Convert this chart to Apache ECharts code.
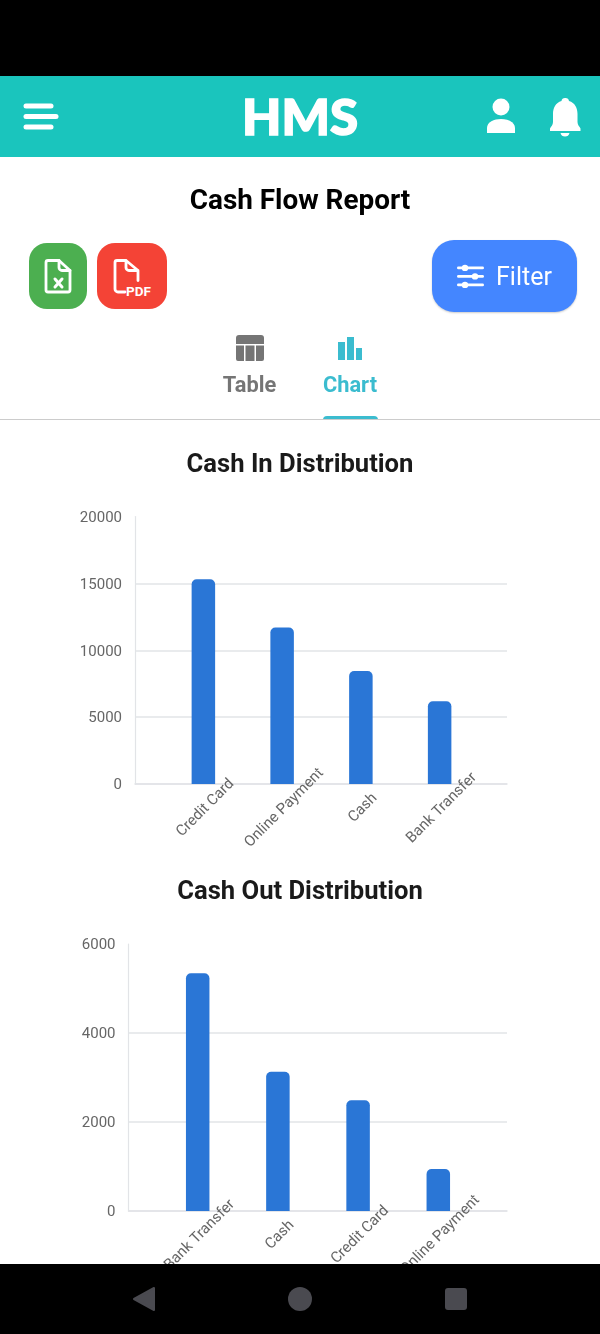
<!DOCTYPE html>
<html><head><meta charset="utf-8">
<script src="https://cdn.jsdelivr.net/npm/echarts@6/dist/echarts.min.js"></script>
<style>
html,body{margin:0;padding:0;background:#fff;width:600px;height:1334px;overflow:hidden;font-family:Roboto,sans-serif}
#chart{position:absolute;left:0;top:0;width:600px;height:1334px}
.a{position:absolute;z-index:5}
.t{position:absolute;z-index:5;white-space:nowrap;transform:translate(-50%,-50%)}
svg{display:block}
</style></head><body>
<div id="chart"></div>
<div class="a" style="left:0;top:0;width:600px;height:76px;background:#000"></div>
<div class="a" style="left:0;top:76px;width:600px;height:81px;background:#1AC5BD"></div>
<div class="a" style="left:0;top:1264px;width:600px;height:70px;background:#000"></div>
<svg class="a" style="left:0;top:76px" width="600" height="81" fill="#fff">
  <rect x="23.500" y="27.500" width="30" height="5" rx="2.500"/><rect x="23.500" y="38" width="35" height="5" rx="2.500"/><rect x="23.500" y="48.500" width="30" height="5" rx="2.500"/>
  <circle cx="501" cy="31" r="8.500"/><path d="M487 57v-5c0-6 7-9 14-9s14 3 14 9v5z"/>
  <path d="M565 22c-2 0-3.300 1.300-3.500 3-6 1.800-8.500 7-8.500 13v8c0 3-2 4.500-3 6.500v2.500h30.500v-2.500c-1-2-3-3.500-3-6.500v-8c0-6-2.500-11.200-8.500-13-.2-1.700-1.500-3-3.500-3z"/>
  <path d="M560.500 57h9c-.5 2.500-2.200 3.500-4.500 3.500s-4-1-4.500-3.500z"/>
</svg>
<div class="t" style="left:300px;top:116px;font:900 49px Lato,sans-serif;color:#fff;-webkit-text-stroke:1.500px #fff;letter-spacing:0px;transform:translate(-50%,-50%) scaleX(1.04)">HMS</div>
<div class="t" style="left:300px;top:199px;font:700 27.900px Roboto;color:#000">Cash Flow Report</div>
<div class="a" style="left:29px;top:243px;width:58px;height:66px;border-radius:18px;background:#4CAF50"></div>
<div class="a" style="left:97px;top:243px;width:70px;height:66px;border-radius:18px;background:#F44336"></div>
<div class="a" style="left:432px;top:240px;width:145px;height:72px;border-radius:22px;background:#4486FF;box-shadow:0 1px 2px rgba(0,0,0,.2)"></div>
<svg class="a" style="left:29px;top:243px" width="138" height="66" fill="none" stroke="#fff" stroke-width="2.800" stroke-linejoin="round" stroke-linecap="round">
  <path d="M19 17.500h11l11 10v19.500a2 2 0 0 1-2 2h-20a2 2 0 0 1-2-2v-27.500a2 2 0 0 1 2-2z"/><path d="M30 17.500v7a3 3 0 0 0 3 3h8"/>
  <path d="M26 36l7 8M33 36l-7 8" stroke-width="3"/>
  <path d="M96 49h-7a3 3 0 0 1-3-3v-26.500a2 2 0 0 1 2-2h9l12 10v10M97 17.500v7a3 3 0 0 0 3 3h9"/>
</svg>
<div class="t" style="left:138.500px;top:291px;font:700 13.500px Roboto;color:#fff">PDF</div>
<svg class="a" style="left:455px;top:262px" width="30" height="28" fill="#fff">
  <rect x="2" y="4.500" width="27" height="2.800" rx="1.400"/><rect x="2" y="13" width="27" height="2.800" rx="1.400"/><rect x="2" y="21.500" width="27" height="2.800" rx="1.400"/>
  <circle cx="10" cy="5.900" r="3.200"/><circle cx="20" cy="14.400" r="3.200"/><circle cx="10" cy="22.900" r="3.200"/>
</svg>
<div class="t" style="left:524px;top:276px;font:400 25px Roboto;color:#fff">Filter</div>
<svg class="a" style="left:236px;top:335px" width="28" height="27" fill="#757575">
  <path d="M3 0h22a3 3 0 0 1 3 3v6H0V3a3 3 0 0 1 3-3z"/>
  <path d="M0 10.500h8v15.500H2a2 2 0 0 1-2-2zM9.500 10.500h9v15.500h-9zM20 10.500h8v13.500a2 2 0 0 1-2 2h-6z"/>
</svg>
<svg class="a" style="left:338px;top:337px" width="25" height="24" fill="#3BBCCF">
  <rect x="0" y="5" width="7" height="18"/><rect x="9" y="0" width="7" height="23"/><rect x="18" y="11" width="6" height="12"/>
</svg>
<div class="t" style="left:249.500px;top:384px;font:700 21.800px Roboto;color:#757575">Table</div>
<div class="t" style="left:350px;top:384px;font:700 21.800px Roboto;color:#3BBCCF">Chart</div>
<div class="a" style="left:323px;top:416px;width:55px;height:3.500px;background:#3BBCCF;border-radius:4px 4px 0 0"></div>
<div class="a" style="left:0;top:419px;width:600px;height:1px;background:#ccc"></div>
<svg class="a" style="left:0;top:1264px" width="600" height="70" fill="#4a4a50">
  <path d="M154 24v22l-20-11z" stroke="#4a4a50" stroke-width="2" stroke-linejoin="round"/>
  <circle cx="300" cy="35" r="12"/><rect x="445" y="24" width="22" height="22" rx="3"/>
</svg>
<script>
const titleIn = "Cash In Distribution";
const titleOut = "Cash Out Distribution";
const categoriesIn = ["Credit Card", "Online Payment", "Cash", "Bank Transfer"];
const valuesIn = [15300, 11700, 8450, 6190];
const ticksInMax = 20000, ticksInStep = 5000;
const categoriesOut = ["Bank Transfer", "Cash", "Credit Card", "Online Payment"];
const valuesOut = [5340, 3130, 2490, 945];
const ticksOutMax = 6000, ticksOutStep = 2000;

const gridLine = "#e2e4e7", labelColor = "#666";
const chart = echarts.init(document.getElementById("chart"), null, {renderer:"canvas"});

function panel(base, cats, vals, max, step, wide, narrow, top, bottom) {
  return {
    grid: [
      {left: wide[0], width: wide[1]-wide[0], top: top, height: bottom-top},
      {left: narrow[0], width: narrow[1]-narrow[0], top: top, height: bottom-top}
    ],
    xAxis: [
      {gridIndex: base, type: "category", data: cats, axisTick:{show:false}, axisLabel:{show:false},
       axisLine:{show:true, lineStyle:{color:gridLine, width:1.5}}},
      {gridIndex: base+1, type: "category", data: cats, axisTick:{show:false}, axisLine:{show:false},
       axisLabel:{show:true, interval:0, rotate:45, align:"center", verticalAlign:"middle", margin:24, hideOverlap:false,
                  formatter:(v)=>"{c|"+v+"}",
                  rich:{c:{padding:[3,0,0,3], color:labelColor, fontFamily:"Roboto", fontSize:15}}}}
    ],
    yAxis: [
      {gridIndex: base, type:"value", min:0, max:max, interval:step,
       axisLine:{show:true, lineStyle:{color:gridLine, width:1.2}}, axisTick:{show:false},
       splitLine:{showMaxLine:false, lineStyle:{color:gridLine, width:1.5}},
       axisLabel:{margin:13, formatter:(v)=>"{v|"+v+"}",
                  rich:{v:{padding:[3,0,0,0], color:labelColor, fontFamily:"Roboto", fontSize:15}}}},
      {gridIndex: base+1, type:"value", min:0, max:max, interval:step, show:false, splitLine:{show:false}}
    ],
    series: [{
      type:"bar", xAxisIndex: base+1, yAxisIndex: base+1, data: vals, barWidth:23.5, z:3,
      itemStyle:{color:"#2A76D6", borderRadius:[5,5,0,0]}, silent:true
    }]
  };
}
const p1 = panel(0, categoriesIn, valuesIn, ticksInMax, ticksInStep, [135,507], [164,479], 516.5, 784);
const p2 = panel(2, categoriesOut, valuesOut, ticksOutMax, ticksOutStep, [128.5,507], [157.6,478.4], 944, 1211);
const titleStyle = {color:"#1a1a1a", fontFamily:"Roboto", fontWeight:700, fontSize:25.6};
chart.setOption({
  animation:false,
  title:[
    {text:titleIn, left:"center", top:453, textStyle:titleStyle, padding:0},
    {text:titleOut, left:"center", top:879.5, textStyle:titleStyle, padding:0}
  ],
  grid:[...p1.grid, ...p2.grid],
  xAxis:[...p1.xAxis, ...p2.xAxis],
  yAxis:[...p1.yAxis, ...p2.yAxis],
  series:[...p1.series, ...p2.series]
});
</script>
</body></html>
